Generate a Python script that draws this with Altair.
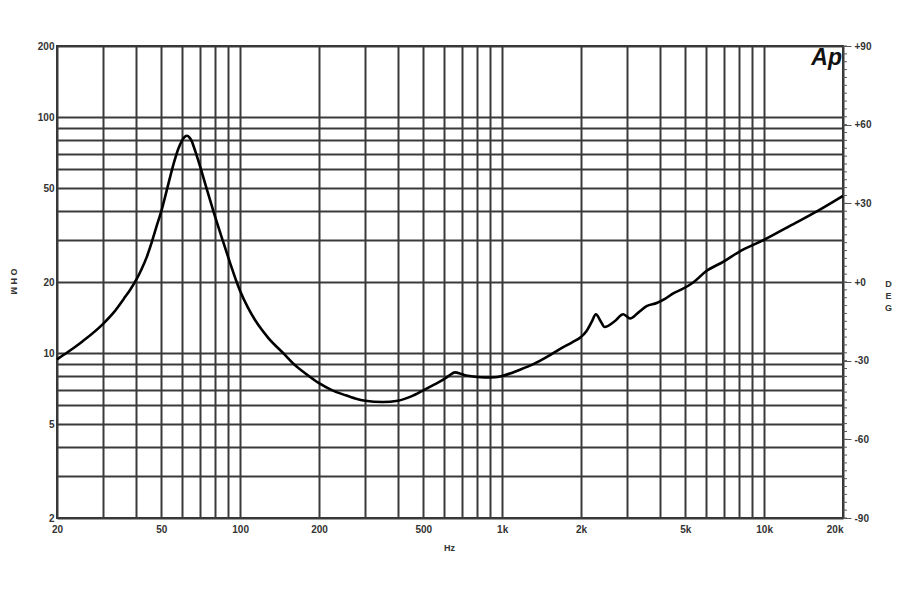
import altair as alt
import pandas as pd

# Impedance curve (Hz, ohm)
freq = [20, 22, 25, 30, 33, 36, 38, 40, 42, 44, 46, 48, 50, 52, 54, 56, 58, 60,
        61.5, 62.7, 64, 65.4, 66.5, 67.9, 70.9, 74.4, 79, 85.8, 91, 97, 100, 107,
        114, 128, 148, 160, 180, 200, 225, 250, 275, 300, 350, 400, 450, 500, 550,
        600, 630, 660, 690, 720, 780, 860, 940, 1000, 1170, 1310, 1500, 1660, 1850,
        2000, 2100, 2200, 2280, 2380, 2460, 2680, 2900, 3080, 3300, 3560, 3890,
        4200, 4500, 4840, 5360, 6000, 7000, 8000, 10000, 12500, 15900, 20000]
ohm = [9.4, 10.1, 11.2, 13.3, 14.9, 17.0, 18.5, 20.3, 22.6, 25.5, 29.5, 34.5,
       39.8, 47.0, 55.5, 64.5, 73.0, 79.5, 82.5, 83.3, 82.0, 79.0, 75.0, 70.0,
       60.0, 50.0, 40.0, 30.0, 24.6, 20.0, 18.3, 15.6, 13.8, 11.6, 9.85, 9.0,
       8.1, 7.45, 6.95, 6.65, 6.42, 6.28, 6.2, 6.28, 6.55, 6.95, 7.35, 7.75,
       8.05, 8.28, 8.2, 8.05, 7.95, 7.88, 7.9, 8.0, 8.5, 8.95, 9.7, 10.4, 11.1,
       11.7, 12.4, 13.6, 14.6, 13.6, 12.9, 13.6, 14.6, 14.0, 14.8, 15.8, 16.3,
       17.0, 17.9, 18.6, 19.9, 22.2, 24.4, 26.8, 30.2, 34.5, 39.8, 46.3]

x_grid = [20, 30, 40, 50, 60, 70, 80, 90, 100, 200, 300, 400, 500, 600, 700, 800,
          900, 1000, 2000, 3000, 4000, 5000, 6000, 7000, 8000, 9000, 10000, 20000]
x_labels = [20, 50, 100, 200, 500, 1000, 2000, 5000, 10000, 20000]
y_grid = [2, 3, 4, 5, 6, 7, 8, 9, 10, 20, 30, 40, 50, 60, 70, 80, 90, 100, 200]
y_labels = [2, 5, 10, 20, 50, 100, 200]
deg_major = [-90, -60, -30, 0, 30, 60, 90]
deg_minor = list(range(-90, 91, 3))

W, H = 786, 472
GRID = "#3a3a3a"
FONT = "Liberation Sans"

df = pd.DataFrame({"f": freq, "z": ohm})
deg_df = pd.DataFrame({"deg": deg_minor})

xl = ",".join(str(v) for v in x_labels)
yl = ",".join(str(v) for v in y_labels)

curve = alt.Chart(df).mark_line(color="black", strokeWidth=2.6, interpolate="monotone").encode(
    x=alt.X("f:Q",
            scale=alt.Scale(type="log", domain=[20, 20000], nice=False),
            axis=alt.Axis(values=x_grid, grid=True, gridColor=GRID, gridWidth=2,
                          gridOpacity=1, ticks=False, domain=False,
                          labelFlush=False,
                          labelAlign={"condition": {"test": "datum.value >= 20000", "value": "right"},
                                      "value": "center"},
                          labelExpr=f"indexof([{xl}], datum.value) < 0 ? '' : (datum.value >= 1000 ? (datum.value/1000) + 'k' : '' + datum.value)",
                          labelPadding=6, labelFontSize=10, labelFont=FONT,
                          labelFontWeight="bold", labelColor="#333",
                          title="Hz", titleFontSize=9, titleFont=FONT,
                          titleFontWeight="bold", titleColor="#333",
                          titleX=W / 2 - 1, titleY=29, titleBaseline="middle")),
    y=alt.Y("z:Q",
            scale=alt.Scale(type="log", domain=[2, 200], nice=False),
            axis=alt.Axis(values=y_grid, grid=True, gridColor=GRID, gridWidth=2,
                          gridOpacity=1, ticks=False, domain=False,
                          labelExpr=f"indexof([{yl}], datum.value) < 0 ? '' : '' + datum.value",
                          labelPadding=3, labelFontSize=10, labelFont=FONT,
                          labelFontWeight="bold", labelColor="#333",
                          title="O  H  M", titleFontSize=9, titleFont=FONT,
                          titleFontWeight="bold", titleColor="#333", titleAngle=90,
                          titleX=-44, titleY=H / 2 - 1, titleAlign="center",
                          titleBaseline="middle")),
)

minor = alt.Chart(deg_df).mark_rule(color="#555", strokeWidth=1).encode(
    y=alt.Y("deg:Q",
            scale=alt.Scale(domain=[-90, 90], nice=False),
            axis=alt.Axis(orient="right", values=deg_major, grid=False, domain=False,
                          ticks=True, tickSize=8, tickColor="#555", tickWidth=1,
                          labelExpr="(datum.value >= 0 ? '+' : '-') + abs(datum.value)",
                          labelPadding=3, labelFontSize=10, labelFont=FONT,
                          labelFontWeight="bold", labelColor="#333",
                          title=["D", "E", "G"], titleFontSize=9, titleFont=FONT,
                          titleFontWeight="bold", titleColor="#333", titleAngle=0,
                          titleLineHeight=12, titleX=45, titleY=H / 2 + 1,
                          titleAlign="center", titleBaseline="middle")),
    x=alt.value(W),
    x2=alt.value(W + 4),
)

logo = alt.Chart(pd.DataFrame({"t": ["Ap"]})).mark_text(
    font="Liberation Sans", fontSize=23, fontWeight="bold", fontStyle="italic",
    align="right", baseline="top", color="#111"
).encode(x=alt.value(W - 1), y=alt.value(1), text="t:N")

chart = alt.layer(curve, minor, logo).resolve_scale(y="independent").properties(
    width=W, height=H,
    autosize=alt.AutoSizeParams(type="none"),
    padding={"left": 49, "top": 38, "right": 49, "bottom": 70},
    background="white",
).configure_view(stroke="#333", strokeWidth=2)

chart.save("out.html", embed_options={"renderer": "svg", "actions": False})
